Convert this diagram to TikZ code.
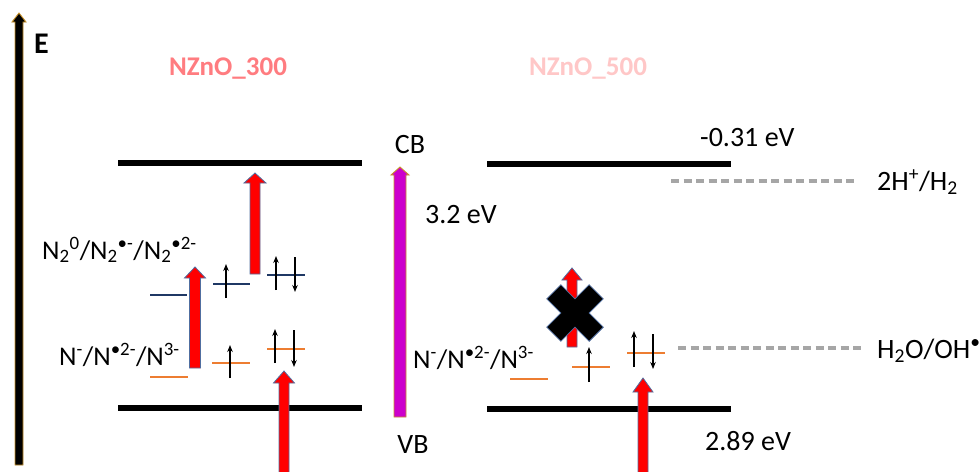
\documentclass[tikz,border=0pt]{standalone}
\usepackage{fontspec}
\setmainfont{Carlito}
\usetikzlibrary{arrows.meta}
\definecolor{navylvl}{RGB}{31,56,100}
\definecolor{orangelvl}{RGB}{237,125,49}
\definecolor{arrowedge}{RGB}{80,110,160}
\definecolor{goldedge}{RGB}{200,145,40}
\definecolor{magentafill}{RGB}{204,0,204}
\definecolor{titleA}{RGB}{255,124,128}
\definecolor{titleB}{RGB}{255,199,199}
\definecolor{dashgray}{RGB}{166,166,166}
\newcommand\blockup[7]{%
 \filldraw[#1] ({#2-#5/2},#3) -- ({#2-#5/2},{#4+#7}) -- ({#2-#6/2},{#4+#7}) -- (#2,#4) -- ({#2+#6/2},{#4+#7}) -- ({#2+#5/2},{#4+#7}) -- ({#2+#5/2},#3) -- cycle;}
\tikzset{
  band/.style={line width=6.5pt, black},
  navy/.style={line width=2.5pt, navylvl},
  orng/.style={line width=2.5pt, orangelvl},
  spin/.style={line width=1.1pt, black, -{Stealth[length=7pt,width=5.5pt]}},
  redarrow/.style={fill=red, draw=arrowedge, line width=0.8pt},
  redox/.style={dashgray, line width=3.2pt, dash pattern=on 8pt off 4.5pt},
  lbl/.style={inner sep=0pt, font=\fontsize{28}{32}\selectfont},
  lblsm/.style={inner sep=0pt, font=\fontsize{27}{31}\selectfont},
}
\begin{document}
\begin{tikzpicture}[x=1pt,y=-1pt]
\useasboundingbox (0,0) rectangle (979,471);
% energy axis
\blockup{fill=black, draw=goldedge, line width=0.9pt}{19}{465}{13}{8}{14}{9}
\node[lbl, anchor=base west, font=\fontsize{30}{34}\selectfont\bfseries] (E) at (34,53) {E};
% titles
\node[lbl, anchor=base, text=titleA, font=\fontsize{27}{31}\selectfont\bfseries] (t1) at (228,75) {NZnO\_300};
\node[lbl, anchor=base, text=titleB, font=\fontsize{27}{31}\selectfont\bfseries] (t2) at (588,75) {NZnO\_500};
% bands
\draw[band] (118,163) -- (362,163);
\draw[band] (118,408) -- (362,408);
\draw[band] (487,164) -- (731,164);
\draw[band] (487,409) -- (731,409);
% band gap arrow
\blockup{fill=magentafill, draw=goldedge, line width=0.9pt}{400}{417}{167}{12}{18}{8}
\node[lbl, anchor=base] (CB) at (410,153) {CB};
\node[lbl, anchor=base] (VB) at (413,453) {VB};
\node[lbl, anchor=base west] (gap) at (425,223) {3.2 eV};
\node[lbl, anchor=base west] (cbv) at (700,146) {-0.31 eV};
\node[lbl, anchor=base west] (vbv) at (705,450) {2.89 eV};
% redox levels
\draw[redox] (671,181) -- (856,181);
\node[lbl, anchor=base west] (h2) at (877,190) {2H\textsuperscript{+}/H\textsubscript{2}};
\draw[redox] (678,348) -- (863,348);
\node[lbl, anchor=base west] (oh) at (877,358) {H\textsubscript{2}O/OH\textsuperscript{•}};
% left panel labels
\node[lblsm, anchor=base west] (n2lbl) at (42,259) {N\textsubscript{2}\textsuperscript{0}/N\textsubscript{2}\textsuperscript{•-}/N\textsubscript{2}\textsuperscript{•2-}};
\node[lblsm, anchor=base west] (nlblA) at (59,365) {N\textsuperscript{-}/N\textsuperscript{•2-}/N\textsuperscript{3-}};
\node[lblsm, anchor=base east] (nlblB) at (534,368) {N\textsuperscript{-}/N\textsuperscript{•2-}/N\textsuperscript{3-}};
% left N2 levels
\draw[navy] (150,295) -- (187,295);
\draw[navy] (213,284) -- (250,284);
\draw[navy] (267,275) -- (305,275);
\draw[spin] (226,298) -- (226,264);
\draw[spin] (276,290) -- (276,256);
\draw[spin] (295,257) -- (295,292);
% left N levels
\draw[orng] (150,377) -- (188,377);
\draw[orng] (212,363) -- (250,363);
\draw[orng] (267,349) -- (305,349);
\draw[spin] (230,378) -- (230,345);
\draw[spin] (275,363) -- (275,329);
\draw[spin] (294,330) -- (294,367);
% right N levels
\draw[orng] (510,379) -- (548,379);
\draw[orng] (572,367) -- (610,367);
\draw[orng] (627,353) -- (665,353);
\draw[spin] (589,382) -- (589,347);
\draw[spin] (634,367) -- (634,331);
\draw[spin] (653,334) -- (653,369);
% red excitation arrows
\blockup{redarrow}{195}{368}{267}{11}{21}{11}
\blockup{redarrow}{255}{274}{173}{10}{22}{10}
\blockup{redarrow}{284}{476}{371}{10}{21}{12}
\blockup{redarrow}{572}{347}{268}{10}{20}{12}
\blockup{redarrow}{643}{476}{378}{10}{20}{14}
% blocking cross
\begin{scope}[shift={(575,313)}, rotate=45]
\filldraw[fill=black, draw=arrowedge, line width=0.8pt]
 (-10,-30) -- (10,-30) -- (10,-10) -- (30,-10) -- (30,10) -- (10,10) -- (10,30) -- (-10,30) -- (-10,10) -- (-30,10) -- (-30,-10) -- (-10,-10) -- cycle;
\end{scope}
\end{tikzpicture}
\end{document}
